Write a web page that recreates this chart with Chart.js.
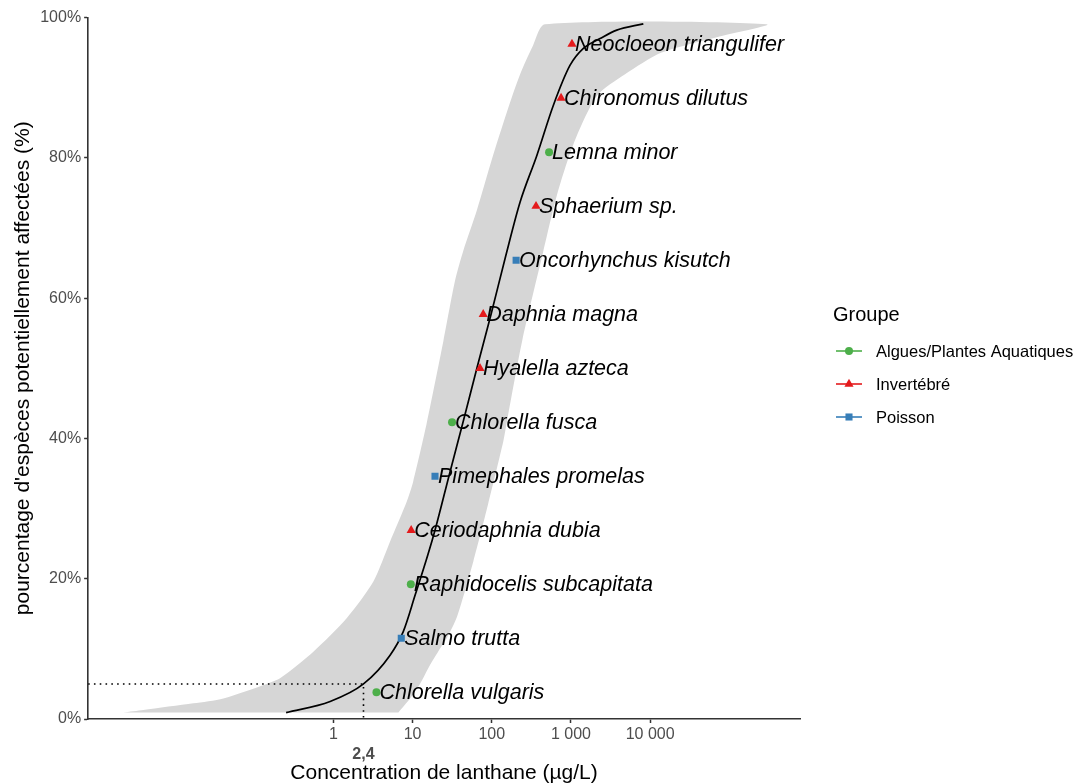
<!DOCTYPE html>
<html><head><meta charset="utf-8">
<script src="https://cdn.jsdelivr.net/npm/chart.js@4.4.1/dist/chart.umd.min.js"></script>
<style>html,body{margin:0;padding:0;background:#fff}#wrap{width:1076px;height:784px;position:relative}</style>
</head><body><div id="wrap"><canvas id="c" width="1076" height="784"></canvas></div>
<script>
// ---------- data ----------
const speciesNames = ['Chlorella vulgaris','Salmo trutta','Raphidocelis subcapitata','Ceriodaphnia dubia','Pimephales promelas','Chlorella fusca','Hyalella azteca','Daphnia magna','Oncorhynchus kisutch','Sphaerium sp.','Lemna minor','Chironomus dilutus','Neocloeon triangulifer'];
const speciesGroups = ['Algues/Plantes Aquatiques','Poisson','Algues/Plantes Aquatiques','Invertébré','Poisson','Algues/Plantes Aquatiques','Invertébré','Invertébré','Poisson','Invertébré','Algues/Plantes Aquatiques','Invertébré','Invertébré'];
const speciesConc = [3.5, 7.2, 9.5, 9.6, 19.2, 31.5, 71, 78, 203, 362, 529, 750, 1030];
const speciesPct = [3.8, 11.5, 19.2, 26.9, 34.6, 42.3, 50.0, 57.7, 65.4, 73.1, 80.8, 88.5, 96.2];

const curveConc = [0.253, 0.909, 2.4, 5.2, 7.65, 10.8, 15.6, 19.5, 29.2, 43.1, 65.2, 98, 150, 228, 370, 600, 975, 1435, 2330, 3785, 8200];
const curvePct  = [0.9, 2.5, 5.0, 9.1, 12.5, 17.7, 23.4, 27.2, 34.9, 42.2, 50.1, 57.7, 66.0, 73.7, 80.3, 87.5, 93.2, 95.6, 97.0, 98.2, 99.1];

const bandLowConc = [0.00223, 0.00399, 0.0171, 0.0408, 0.144, 0.212, 0.559, 1.48, 3.20, 5.2, 8.45, 10.2, 15.1, 24.5, 34.4, 43.8, 64.7, 101, 155, 228, 332, 471];
const bandLowPct  = [0.94, 1.29, 2.23, 2.94, 5.0, 5.8, 9.6, 14.4, 19.6, 25.3, 31.0, 33.9, 42.2, 53.9, 62.5, 66.8, 72.5, 79.9, 86.5, 91.9, 96.0, 99.04];
const bandHighConc = [6.62, 9.29, 12.4, 16.6, 21.0, 27.0, 36.5, 58.6, 89.8, 140, 156, 242, 444, 662, 1072, 2118, 4820, 13930, 69300, 296500];
const bandHighPct  = [0.94, 2.94, 5.0, 7.7, 9.6, 11.5, 14.6, 22.5, 30.6, 39.6, 42.5, 53.9, 66.5, 74.6, 81.9, 88.8, 91.9, 95.0, 97.2, 99.04];

const hc5Conc = 2.4;
const hc5Pct = 5;
const hc5Label = '2,4';

const xTickValues = [1, 10, 100, 1000, 10000];
const xTickLabels = ['1', '10', '100', '1 000', '10 000'];
const yTickValues = [0, 20, 40, 60, 80, 100];
const yTickLabels = ['0%', '20%', '40%', '60%', '80%', '100%'];

const groupNames = ['Algues/Plantes Aquatiques', 'Invertébré', 'Poisson'];
const groupColors = ['#4daf4a', '#e41a1c', '#377eb8'];
const groupShapes = ['circle', 'triangle', 'rect'];
const groupRadius = [4, 5.3, 5];

const xMin = 0.0008, xMax = 780000;

// ---------- build ----------
const FONT = '"Liberation Sans", Arial, Helvetica, sans-serif';
Chart.defaults.font.family = FONT;

const bandPolygon = bandLowConc.map((c, i) => ({x: c, y: bandLowPct[i]}))
  .concat(bandHighConc.map((c, i) => ({x: c, y: bandHighPct[i]})).reverse());
const curvePts = curveConc.map((c, i) => ({x: c, y: curvePct[i]}));
const hc5Pts = [{x: xMin, y: hc5Pct}, {x: hc5Conc, y: hc5Pct}, {x: hc5Conc, y: 0}];

const datasets = [
  {label: 'band', data: bandPolygon, fill: 'shape', backgroundColor: '#d6d6d6', borderColor: 'rgba(0,0,0,0)', borderWidth: 0, pointRadius: 0, tension: 0.25, order: 10},
  {label: 'hc5', data: hc5Pts, fill: false, borderColor: '#000', borderWidth: 1.6, borderDash: [1.6, 4.2], pointRadius: 0, tension: 0, order: 9},
  {label: 'curve', data: curvePts, fill: false, borderColor: '#000', borderWidth: 1.7, pointRadius: 0, cubicInterpolationMode: 'monotone', order: 8}
];
groupNames.forEach((g, gi) => {
  const pts = [];
  speciesNames.forEach((n, i) => { if (speciesGroups[i] === g) pts.push({x: speciesConc[i], y: speciesPct[i]}); });
  datasets.push({label: g, data: pts, showLine: false, fill: false, pointStyle: groupShapes[gi], pointRadius: groupRadius[gi],
    pointBackgroundColor: groupColors[gi], pointBorderWidth: 0, pointBorderColor: groupColors[gi], order: 1});
});

const labelPlugin = {
  id: 'speciesLabels',
  afterDatasetsDraw(chart) {
    const ctx = chart.ctx, xs = chart.scales.x, ys = chart.scales.y;
    ctx.save();
    ctx.font = 'italic 21.5px ' + FONT;
    ctx.fillStyle = '#000';
    ctx.textAlign = 'left';
    ctx.textBaseline = 'middle';
    speciesNames.forEach((n, i) => {
      ctx.fillText(n, xs.getPixelForValue(speciesConc[i]) + 3, ys.getPixelForValue(speciesPct[i]) + 1);
    });
    ctx.restore();
  }
};

function drawMarker(ctx, shape, x, y, r, color) {
  ctx.fillStyle = color;
  ctx.beginPath();
  if (shape === 'circle') { ctx.arc(x, y, r, 0, Math.PI * 2); }
  else if (shape === 'triangle') {
    for (let k = 0; k < 3; k++) { const a = -Math.PI / 2 + k * 2 * Math.PI / 3; const px = x + Math.cos(a) * r, py = y + Math.sin(a) * r; k ? ctx.lineTo(px, py) : ctx.moveTo(px, py); }
    ctx.closePath();
  } else { const s = r * Math.SQRT1_2; ctx.rect(x - s, y - s, 2 * s, 2 * s); }
  ctx.fill();
}

const legendPlugin = {
  id: 'groupLegend',
  afterDraw(chart) {
    const ctx = chart.ctx;
    const lx = 833, ty = 315, y0 = 351, dy = 33;
    ctx.save();
    ctx.textBaseline = 'middle';
    ctx.textAlign = 'left';
    ctx.fillStyle = '#000';
    ctx.font = '20px ' + FONT;
    ctx.fillText('Groupe', lx, ty);
    ctx.font = '16.5px ' + FONT;
    groupNames.forEach((g, i) => {
      const y = y0 + i * dy;
      ctx.strokeStyle = groupColors[i];
      ctx.lineWidth = 1.6;
      ctx.beginPath(); ctx.moveTo(836, y); ctx.lineTo(862, y); ctx.stroke();
      drawMarker(ctx, groupShapes[i], 849, y, groupRadius[i], groupColors[i]);
      ctx.fillStyle = '#000';
      ctx.fillText(g, 876, y + 1);
    });
    ctx.restore();
  }
};

new Chart(document.getElementById('c'), {
  type: 'line',
  data: {datasets},
  options: {
    responsive: false,
    devicePixelRatio: 1,
    animation: false,
    layout: {padding: {left: 11, right: 276, top: 17.5, bottom: 0}},
    plugins: {legend: {display: false}, tooltip: {enabled: false}},
    scales: {
      x: {
        type: 'logarithmic', position: 'bottom', min: xMin, max: xMax, weight: 0,
        afterBuildTicks: s => { s.ticks = xTickValues.map(v => ({value: v})); },
        ticks: {callback: (v, i) => xTickLabels[i], font: {size: 16}, color: '#4d4d4d', padding: 2, autoSkip: false, maxRotation: 0},
        grid: {drawOnChartArea: false, drawTicks: true, tickLength: 4, tickColor: '#333', tickWidth: 1.5},
        border: {color: '#333', width: 1.6}
      },
      x2: {
        type: 'logarithmic', position: 'bottom', min: xMin, max: xMax, weight: 1,
        afterBuildTicks: s => { s.ticks = [{value: hc5Conc}]; },
        ticks: {callback: () => hc5Label, font: {size: 16, weight: 'bold', lineHeight: 1.05}, color: '#4d4d4d', padding: 0, autoSkip: false, maxRotation: 0},
        grid: {display: false, drawTicks: false, drawOnChartArea: false},
        border: {display: false},
        title: {display: true, text: 'Concentration de lanthane (µg/L)', font: {size: 21, lineHeight: 1.0}, color: '#000', padding: {top: 0, bottom: 0}}
      },
      y: {
        min: 0, max: 100,
        afterBuildTicks: s => { s.ticks = yTickValues.map(v => ({value: v})); },
        ticks: {callback: (v, i) => yTickLabels[i], font: {size: 16}, color: '#4d4d4d', padding: 3},
        grid: {drawOnChartArea: false, drawTicks: true, tickLength: 4, tickColor: '#333', tickWidth: 1.5},
        border: {color: '#333', width: 1.6},
        title: {display: true, text: "pourcentage d'espèces potentiellement affectées (%)", font: {size: 21}, color: '#000', padding: {top: 0, bottom: 1}}
      }
    }
  },
  plugins: [labelPlugin, legendPlugin]
});
</script>
</body></html>
